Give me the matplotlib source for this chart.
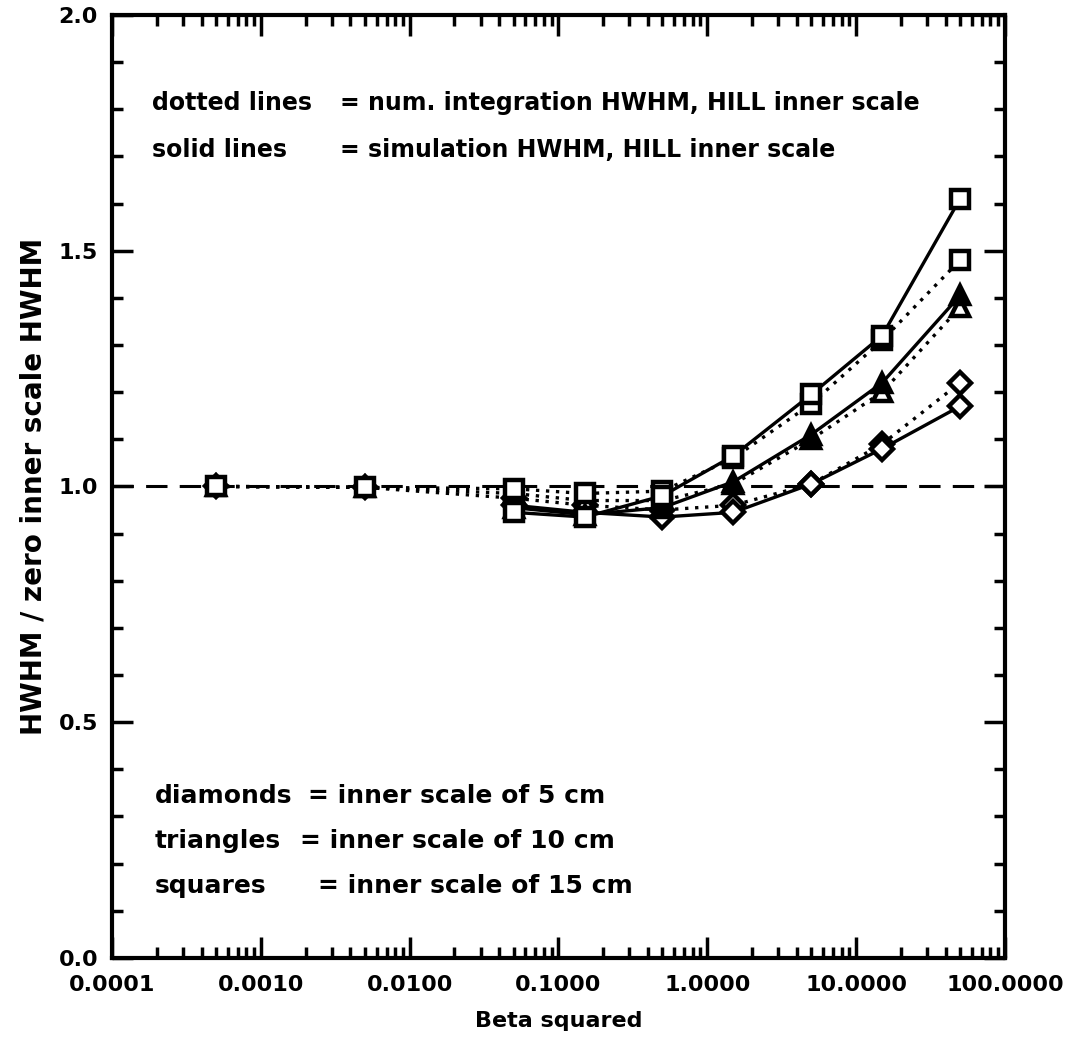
import numpy as np
import matplotlib
matplotlib.use("Agg")
import matplotlib.pyplot as plt
from matplotlib.ticker import LogLocator, FixedLocator, MultipleLocator, FormatStrFormatter, NullFormatter

# Beta squared sample points
beta2_num = [0.0005, 0.005, 0.05, 0.15, 0.5, 1.5, 5.0, 15.0, 50.0]
beta2_sim = [0.05, 0.15, 0.5, 1.5, 5.0, 15.0, 50.0]

# simulation HWHM ratio (solid lines)
sim_diamonds = [0.96, 0.945, 0.935, 0.945, 1.005, 1.08, 1.17]
sim_triangles = [0.955, 0.94, 0.955, 1.01, 1.11, 1.22, 1.405]
sim_squares = [0.945, 0.935, 0.98, 1.065, 1.195, 1.32, 1.61]

# numerical integration HWHM ratio (dotted lines)
num_diamonds = [1.0, 0.998, 0.975, 0.96, 0.95, 0.96, 1.005, 1.09, 1.22]
num_triangles = [1.0, 0.998, 0.985, 0.97, 0.97, 1.005, 1.10, 1.20, 1.38]
num_squares = [1.0, 0.998, 0.995, 0.985, 0.99, 1.06, 1.175, 1.31, 1.48]

xtick_vals = [1e-4, 1e-3, 1e-2, 1e-1, 1e0, 1e1, 1e2]
xtick_labels = ["0.0001", "0.0010", "0.0100", "0.1000", "1.0000", "10.0000", "100.0000"]

FONT = {"family": "DejaVu Sans", "weight": "bold"}
DOT = (0, (1, 2))

fig = plt.figure(figsize=(10.77, 10.40), dpi=100)
ax = fig.add_axes([0.104, 0.079, 0.829, 0.9066])

ax.axhline(1.0, color="black", lw=2.2, ls=(0, (7, 4)), zorder=1)

# diamonds first so the squares end up on top where they overlap
series = [
    (beta2_num, num_diamonds, "D", DOT, "white"),
    (beta2_sim, sim_diamonds, "D", "-", "white"),
    (beta2_num, num_triangles, "^", DOT, "white"),
    (beta2_sim, sim_triangles, "^", "-", "black"),
    (beta2_num, num_squares, "s", DOT, "white"),
    (beta2_sim, sim_squares, "s", "-", "white"),
]
sizes = {"s": 13, "^": 13, "D": 11}
for xs, vals, mk, ls, fc in series:
    ax.plot(xs, vals, color="black", ls=ls, lw=2.4, marker=mk, ms=sizes[mk],
            mfc=fc, mec="black", mew=3.2, zorder=3)

ax.set_xscale("log")
ax.set_xlim(1e-4, 1e2)
ax.set_ylim(0.0, 2.0)

ax.xaxis.set_major_locator(FixedLocator(xtick_vals))
ax.set_xticks(xtick_vals)
ax.set_xticklabels(xtick_labels, fontdict=FONT, fontsize=16)
ax.xaxis.set_minor_locator(LogLocator(base=10, subs=np.arange(2, 10)))
ax.xaxis.set_minor_formatter(NullFormatter())

ax.yaxis.set_major_locator(MultipleLocator(0.5))
ax.yaxis.set_minor_locator(MultipleLocator(0.1))
ax.yaxis.set_major_formatter(FormatStrFormatter("%.1f"))
for lab in ax.get_yticklabels():
    lab.set_fontweight("bold")
    lab.set_fontsize(16)

ax.tick_params(which="both", direction="in", top=True, right=True, width=2.5)
ax.tick_params(which="major", length=15, pad=10)
ax.tick_params(which="minor", length=8)
ax.tick_params(axis="x", which="major", pad=12)
for sp in ax.spines.values():
    sp.set_linewidth(3)

ax.set_xlabel("Beta squared", fontdict=FONT, fontsize=16, labelpad=12)
ax.set_ylabel("HWHM / zero inner scale HWHM", fontdict=FONT, fontsize=20, labelpad=8)


def px_text(x, y, s, size=17):
    fig.text(x / 1077, 1 - y / 1040, s, ha="left", va="center", fontsize=size, **FONT)


px_text(152, 103, "dotted lines")
px_text(340, 103, "= num. integration HWHM, HILL inner scale")
px_text(152, 150, "solid lines")
px_text(340, 150, "= simulation HWHM, HILL inner scale")

px_text(155, 796, "diamonds", 18)
px_text(308, 796, "= inner scale of 5 cm", 18)
px_text(155, 841, "triangles", 18)
px_text(300, 841, "= inner scale of 10 cm", 18)
px_text(155, 886, "squares", 18)
px_text(318, 886, "= inner scale of 15 cm", 18)

fig.savefig("out.png", dpi=100)
